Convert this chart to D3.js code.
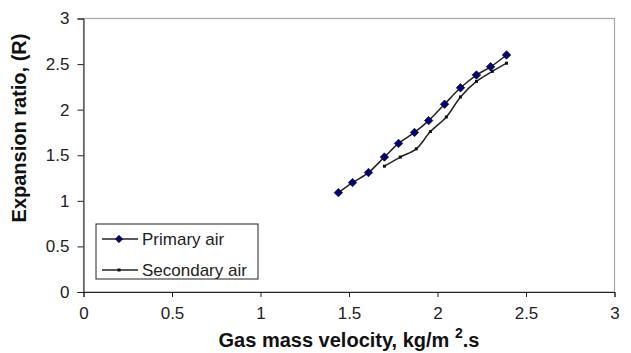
<!DOCTYPE html>
<html>
<head>
<meta charset="utf-8">
<script src="https://cdn.jsdelivr.net/npm/d3@7"></script>
<style>
  body { margin: 0; background: #fff; }
  svg { display: block; font-family: "Liberation Sans", Arial, sans-serif; }
</style>
</head>
<body>
<div class="container"></div>
<script>
// values
const xValues = [1.44, 1.52, 1.61, 1.70, 1.78, 1.87, 1.95, 2.04, 2.13, 2.22, 2.30, 2.39]
const primaryAir = [1.09, 1.20, 1.31, 1.48, 1.63, 1.75, 1.88, 2.06, 2.24, 2.38, 2.47, 2.60]
const secondaryX = [1.70, 1.79, 1.88, 1.96, 2.05, 2.13, 2.22, 2.31, 2.39]
const secondaryAir = [1.38, 1.48, 1.57, 1.76, 1.92, 2.14, 2.31, 2.42, 2.51]
const xTicks = [0, 0.5, 1, 1.5, 2, 2.5, 3]
const yTicks = [0, 0.5, 1, 1.5, 2, 2.5, 3]

const width = 631
const height = 353
const margin = { top: 18.5, right: 16.5, bottom: 61, left: 83.5 }

let svg = d3.select(".container")
    .append("svg")
    .attr("width", width)
    .attr("height", height)
    .attr("viewBox", [0, 0, width, height])

let xScale = d3.scaleLinear()
    .domain([0, 3])
    .range([margin.left, width - margin.right])

let yScale = d3.scaleLinear()
    .domain([0, 3])
    .range([height - margin.bottom, margin.top])

// plot area border (grey top and right)
svg.append("rect")
    .attr("x", xScale(0))
    .attr("y", yScale(3))
    .attr("width", xScale(3) - xScale(0))
    .attr("height", yScale(0) - yScale(3))
    .attr("fill", "none")
    .attr("stroke", "#a6a6a6")
    .attr("stroke-width", 1.2)

svg.append("g")
    .attr("transform", `translate(0, ${yScale(0)})`)
    .call(d3.axisBottom(xScale).tickValues(xTicks).tickFormat(d3.format("")).tickSizeOuter(0).tickSize(5).tickPadding(10))

svg.append("g")
    .attr("transform", `translate(${xScale(0)}, 0)`)
    .call(d3.axisLeft(yScale).tickValues(yTicks).tickFormat(d3.format("")).tickSizeOuter(0).tickSize(6).tickPadding(8))

svg.selectAll(".tick text")
    .attr("font-size", 17)
    .attr("font-family", "Liberation Sans, Arial, sans-serif")
    .attr("fill", "#222")
svg.selectAll(".domain, .tick line").attr("stroke", "#222")

// series
let primary = xValues.map((x, i) => [x, primaryAir[i]])
let secondary = secondaryX.map((x, i) => [x, secondaryAir[i]])

let line = d3.line()
    .x(d => xScale(d[0]))
    .y(d => yScale(d[1]))
    .curve(d3.curveCatmullRom.alpha(0.5))

svg.append("path")
    .datum(secondary)
    .attr("fill", "none")
    .attr("stroke", "#222")
    .attr("stroke-width", 1.5)
    .attr("d", line)

svg.append("g")
    .selectAll("rect")
    .data(secondary)
    .join("rect")
    .attr("x", d => xScale(d[0]) - 1.5)
    .attr("y", d => yScale(d[1]) - 1.5)
    .attr("width", 3)
    .attr("height", 3)
    .attr("fill", "#111")

svg.append("path")
    .datum(primary)
    .attr("fill", "none")
    .attr("stroke", "#222")
    .attr("stroke-width", 1.5)
    .attr("d", line)

let diamond = d3.symbol().type(d3.symbolDiamond2).size(45)

svg.append("g")
    .selectAll("path")
    .data(primary)
    .join("path")
    .attr("transform", d => `translate(${xScale(d[0])}, ${yScale(d[1])})`)
    .attr("d", diamond)
    .attr("fill", "#000080")
    .attr("stroke", "#111")
    .attr("stroke-width", 0.8)

// legend
let legend = svg.append("g").attr("transform", "translate(96, 224)")
legend.append("rect")
    .attr("width", 162)
    .attr("height", 55)
    .attr("fill", "#fff")
    .attr("stroke", "#222")
    .attr("stroke-width", 1)

legend.append("line").attr("x1", 6).attr("x2", 42).attr("y1", 15).attr("y2", 15).attr("stroke", "#222").attr("stroke-width", 1.5)
legend.append("path").attr("transform", "translate(23, 15)").attr("d", d3.symbol().type(d3.symbolDiamond2).size(34)).attr("fill", "#000080").attr("stroke", "#111").attr("stroke-width", 0.8)
legend.append("text").attr("x", 46).attr("y", 21).attr("font-size", 17).attr("fill", "#222").text("Primary air")

legend.append("line").attr("x1", 6).attr("x2", 42).attr("y1", 46).attr("y2", 46).attr("stroke", "#222").attr("stroke-width", 1.5)
legend.append("rect").attr("x", 21.5).attr("y", 44.5).attr("width", 3).attr("height", 3).attr("fill", "#111")
legend.append("text").attr("x", 46).attr("y", 52).attr("font-size", 17).attr("fill", "#222").text("Secondary air")

// axis titles
let xTitle = svg.append("text")
    .attr("x", (xScale(0) + xScale(3)) / 2)
    .attr("y", 347)
    .attr("text-anchor", "middle")
    .attr("font-size", 20)
    .attr("font-weight", "bold")
    .attr("fill", "#111")
xTitle.append("tspan").text("Gas mass velocity, kg/m ")
xTitle.append("tspan").attr("dy", -9).attr("font-size", 14).text("2")
xTitle.append("tspan").attr("dy", 9).text(".s")

svg.append("text")
    .attr("transform", `translate(26, 128) rotate(-90)`)
    .attr("text-anchor", "middle")
    .attr("font-size", 20)
    .attr("font-weight", "bold")
    .attr("fill", "#111")
    .text("Expansion ratio, (R)")
</script>
</body>
</html>
